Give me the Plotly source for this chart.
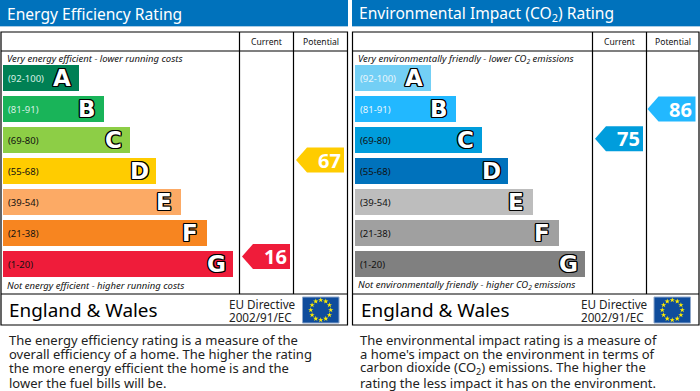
import math
import plotly.graph_objects as go

letters = ["A", "B", "C", "D", "E", "F", "G"]
band_labels = ["(92-100)", "(81-91)", "(69-80)", "(55-68)", "(39-54)", "(21-38)", "(1-20)"]
band_low = [92, 81, 69, 55, 39, 21, 1]
band_high = [100, 91, 80, 68, 54, 38, 20]
bar_lengths = [76, 101, 127, 153, 178, 204, 230]
energy_colors = ["#008054", "#19B459", "#8DCE46", "#FFCC00", "#FCAA65", "#F78520", "#EF1C3A"]
env_colors = ["#73CFF5", "#22B8FF", "#009DDC", "#0072BC", "#BDBDBD", "#A0A0A0", "#808080"]
energy_label_colors = ["#D8F0E4", "#D8F0E4", "#111111", "#111111", "#111111", "#111111", "#111111"]
env_label_colors = ["#E8F6FC", "#E8F6FC", "#111111", "#111111", "#111111", "#111111", "#111111"]
energy_current, energy_potential = 16, 67
env_current, env_potential = 75, 86

FONT = "Noto Sans"
OUTLINE = ("-1.3px 0 0 #000, 1.3px 0 0 #000, 0 -1.3px 0 #000, 0 1.3px 0 #000, "
           "-1px -1px 0 #000, 1px 1px 0 #000, -1px 1px 0 #000, 1px -1px 0 #000")
fig = go.Figure()
shapes, ann = [], []


def T(x, y, text, size, color="#111111", anchor="left", family=FONT, bold=False, italic=False, shadow=None):
    font = dict(size=size, color=color, family=family,
                weight="bold" if bold else "normal",
                style="italic" if italic else "normal")
    if shadow:
        font["shadow"] = shadow
    ann.append(dict(x=x, y=y, text=text, showarrow=False, xanchor=anchor, yanchor="middle",
                    xref="x", yref="y", borderpad=0, borderwidth=0, font=font))


def value_y(v):
    for i, (lo, hi) in enumerate(zip(band_low, band_high)):
        if lo <= v <= hi:
            return 65 + 31 * i + 26 * (hi - v) / (hi - lo)
    return 0


def panel(x0, x1, col1, col2, title, top, bottom, body, colors, label_colors, cur, pot, head_x0, head_x1, left):
    shapes.append(dict(type="rect", x0=head_x0, x1=head_x1, y0=0, y1=26, fillcolor="#0072BC", line_width=0, layer="below"))
    shapes.append(dict(type="rect", x0=head_x0, x1=head_x1, y0=26, y1=27, fillcolor="#A9CDE6", line_width=0, layer="below"))
    shapes.append(dict(type="rect", x0=x0, x1=x1, y0=32, y1=325, line=dict(color="#000", width=1.2), layer="below", fillcolor="#fff"))
    for s in [dict(x0=x0, x1=x1, y0=51, y1=51), dict(x0=x0, x1=x1, y0=294, y1=294),
              dict(x0=col1, x1=col1, y0=32, y1=294), dict(x0=col2, x1=col2, y0=32, y1=294)]:
        shapes.append(dict(type="line", line=dict(color="#000", width=1.2), layer="below", **s))
    T(x0 + 6, 13.5, title, 15.6, "#ffffff")
    T((col1 + col2) / 2, 41.5, "Current", 8.6, anchor="center")
    T((col2 + x1) / 2, 41.5, "Potential", 8.6, anchor="center")
    T(x0 + 5.5, 58.5, top, 9.5, italic=True)
    T(x0 + 5.5, 285, bottom, 9.5, italic=True)
    ys = [65 + 31 * i + 13 for i in range(7)]
    fig.add_trace(go.Bar(x=bar_lengths, y=ys, base=left, width=26, orientation="h",
                         marker=dict(color=colors, line_width=0), hoverinfo="skip", showlegend=False))
    for i, ln in enumerate(bar_lengths):
        T(left + 4.5, ys[i], band_labels[i], 9.5, label_colors[i])
        T(left + ln - 17, ys[i], letters[i], 23, "#ffffff", anchor="center", family="DejaVu Sans", bold=True, shadow=OUTLINE)
    for v, right in [(cur, col2 - 3.5), (pot, x1 - 3.5)]:
        yc = value_y(v)
        idx = next(i for i in range(7) if band_low[i] <= v <= band_high[i])
        fig.add_trace(go.Scatter(x=[right - 48, right - 37, right, right, right - 37, right - 48],
                                 y=[yc, yc - 12.5, yc - 12.5, yc + 12.5, yc + 12.5, yc],
                                 fill="toself", fillcolor=colors[idx], mode="lines", line_width=0,
                                 hoverinfo="skip", showlegend=False))
        T(right - 15, yc, str(v), 20, "#ffffff", anchor="center", bold=True)
    T(x0 + 8, 310, "England &amp; Wales", 18.9, "#000000")
    T(x0 + 228, 303.5, "EU Directive", 11.7, "#222222")
    T(x0 + 228, 317, "2002/91/EC", 11.7, "#222222")
    fx0, fx1 = x0 + 301.5, x0 + 338
    shapes.append(dict(type="rect", x0=fx0, x1=fx1, y0=297, y1=323, fillcolor="#0F4C9C",
                       line=dict(color="#8FA8CC", width=1), layer="below"))
    cx, cy = (fx0 + fx1) / 2, 310
    sx = [cx + 10 * math.sin(k * math.pi / 6) for k in range(12)]
    sy = [cy - 10 * math.cos(k * math.pi / 6) for k in range(12)]
    fig.add_trace(go.Scatter(x=sx, y=sy, mode="markers", marker=dict(symbol="star", size=4, color="#FFED00"),
                             hoverinfo="skip", showlegend=False))
    for k, line in enumerate(body):
        T(x0 + 7.5, 339.5 + 14.4 * k, line, 13, "#222222")


panel(1, 347.5, 239.5, 293.5, "Energy Efficiency Rating",
      "Very energy efficient - lower running costs", "Not energy efficient - higher running costs",
      ["The energy efficiency rating is a measure of the", "overall efficiency of a home. The higher the rating",
       "the more energy efficient the home is and the", "lower the fuel bills will be."],
      energy_colors, energy_label_colors, energy_current, energy_potential, 0, 348, 3)
panel(352.5, 699, 592.5, 646.5, "Environmental Impact (CO<sub>2</sub>) Rating",
      "Very environmentally friendly - lower CO<sub>2</sub> emissions", "Not environmentally friendly - higher CO<sub>2</sub> emissions",
      ["The environmental impact rating is a measure of", "a home's impact on the environment in terms of",
       "carbon dioxide (CO<sub>2</sub>) emissions. The higher the", "rating the less impact it has on the environment."],
      env_colors, env_label_colors, env_current, env_potential, 352, 700, 355)

fig.update_layout(width=700, height=391, margin=dict(l=0, r=0, t=0, b=0), plot_bgcolor="#fff", paper_bgcolor="#fff",
                  xaxis=dict(range=[0, 700], visible=False, fixedrange=True),
                  yaxis=dict(range=[391, 0], visible=False, fixedrange=True),
                  shapes=shapes, annotations=ann, barmode="overlay", showlegend=False)
fig.write_html("out.html", config={"displayModeBar": False},
               post_script="document.body.style.margin='0';document.documentElement.style.overflow='hidden';")
